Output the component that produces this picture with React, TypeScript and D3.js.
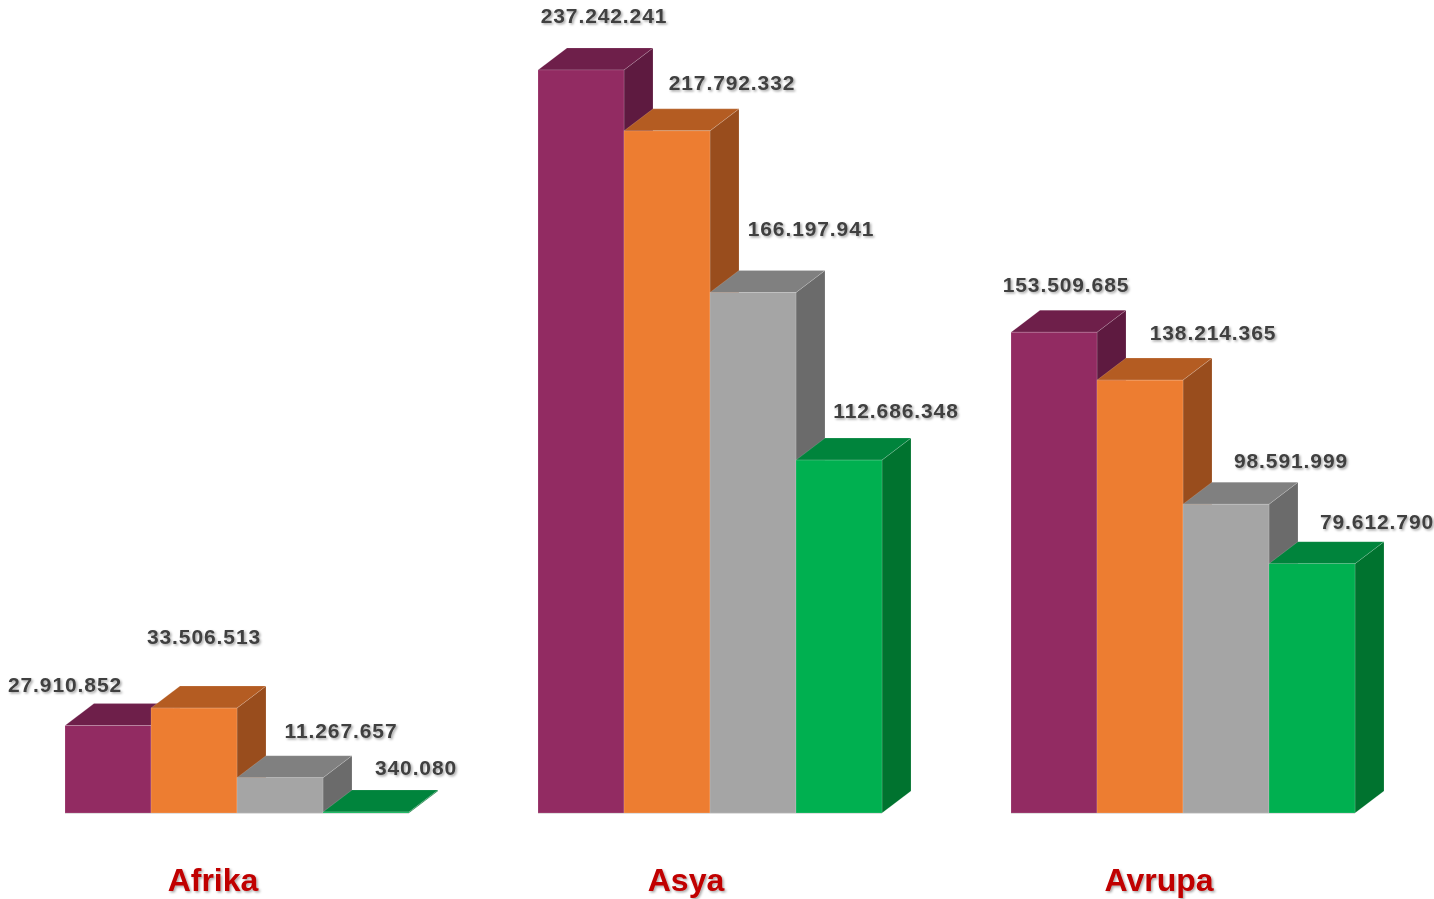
import React from 'react';
import * as d3 from 'd3';

const categories = ['Afrika', 'Asya', 'Avrupa'];
const seriesKeys = ['s1', 's2', 's3', 's4'];
const seriesValues: number[][] = [
  [27910852, 33506513, 11267657, 340080],
  [237242241, 217792332, 166197941, 112686348],
  [153509685, 138214365, 98591999, 79612790],
];

// front / top / side shades per series
const faceColors = [
  { front: '#922B62', top: '#6E1F4A', side: '#5E1A40' },
  { front: '#ED7D31', top: '#B45C22', side: '#994D1D' },
  { front: '#A5A5A5', top: '#808080', side: '#6B6B6B' },
  { front: '#00B050', top: '#00843C', side: '#00732F' },
];

// label nudges (dx from front centre, dy from front top), per category / series
const labelShift: [number, number][][] = [
  [[-43, -34], [10, -64], [61, -40], [50, -37]],
  [[23, -47], [65, -41], [58, -56], [57, -42]],
  [[12, -40], [73, -40], [65, -36], [65, -35]],
];

const W = 1434;
const H = 899;
const baseY = 813;
const depthX = 29;
const depthY = -22;

const fmt = (v: number) => d3.format(',')(v).replace(/,/g, '.');

export default function App() {
  const x0 = d3
    .scaleBand<string>()
    .domain(categories)
    .range([65, 1355])
    .paddingInner(129 / 473)
    .paddingOuter(0);

  const x1 = d3
    .scaleBand<string>()
    .domain(seriesKeys)
    .range([0, x0.bandwidth()])
    .padding(0);

  const y = d3
    .scaleLinear()
    .domain([0, 240000000])
    .range([baseY, baseY - 240 * 3.132]);

  const bw = x1.bandwidth();

  return (
    <svg
      width={W}
      height={H}
      style={{ position: 'absolute', left: 0, top: 0, background: '#fff' }}
    >
      <defs>
        <filter id="shadow" x="-10%" y="-30%" width="130%" height="170%">
          <feDropShadow dx="1.5" dy="1.5" stdDeviation="1" floodColor="#000" floodOpacity="0.35" />
        </filter>
      </defs>

      {categories.map((cat, ci) => {
        const gx = x0(cat) || 0;
        return (
          <g key={cat}>
            {seriesKeys.map((k, si) => {
              const v = seriesValues[ci][si];
              const xl = gx + (x1(k) || 0);
              const xr = xl + bw;
              const yt = y(v);
              const c = faceColors[si];
              const top = `M${xl},${yt}L${xl + depthX},${yt + depthY}L${xr + depthX},${yt + depthY}L${xr},${yt}Z`;
              const side = `M${xr},${yt}L${xr + depthX},${yt + depthY}L${xr + depthX},${baseY + depthY}L${xr},${baseY}Z`;
              return (
                <g key={k} stroke="rgba(255,255,255,0.25)" strokeWidth={0.6}>
                  <path d={side} fill={c.side} />
                  <path d={top} fill={c.top} />
                  <rect x={xl} y={yt} width={bw} height={baseY - yt} fill={c.front} />
                </g>
              );
            })}
            <line x1={gx} x2={gx + x0.bandwidth()} y1={baseY + 0.5} y2={baseY + 0.5} stroke="#e0e0e0" strokeWidth={1} />
          </g>
        );
      })}

      {categories.map((cat, ci) => {
        const gx = x0(cat) || 0;
        return seriesKeys.map((k, si) => {
          const v = seriesValues[ci][si];
          const cx = gx + (x1(k) || 0) + bw / 2;
          const [dx, dy] = labelShift[ci][si];
          return (
            <text
              key={cat + k}
              x={cx + dx}
              y={y(v) + dy}
              textAnchor="middle"
              fontFamily="'Liberation Sans', Arial, sans-serif"
              fontWeight="bold"
              fontSize={21}
              letterSpacing={0.9}
              fill="#404040"
              filter="url(#shadow)"
            >
              {fmt(v)}
            </text>
          );
        });
      })}

      {categories.map((cat) => (
        <text
          key={cat}
          x={(x0(cat) || 0) + x0.bandwidth() / 2 - 24}
          y={891}
          textAnchor="middle"
          fontFamily="'Liberation Sans', Arial, sans-serif"
          fontWeight="bold"
          fontSize={32}
          fill="#C00000"
          filter="url(#shadow)"
        >
          {cat}
        </text>
      ))}
    </svg>
  );
}
